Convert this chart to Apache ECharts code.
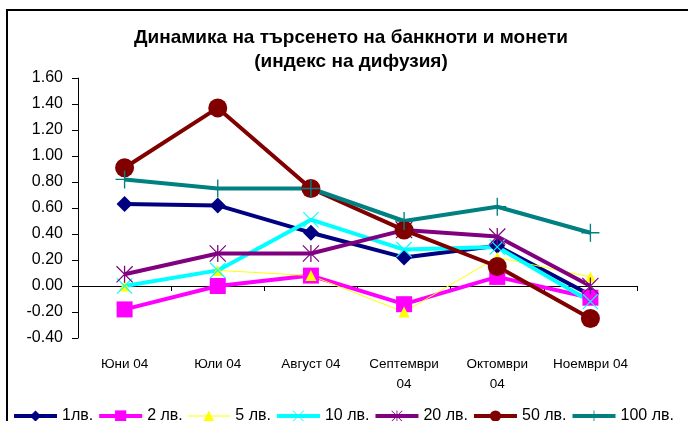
<!DOCTYPE html>
<html>
<head>
<meta charset="utf-8">
<script src="https://cdn.jsdelivr.net/npm/echarts@6/dist/echarts.min.js"></script>
<style>
html,body{margin:0;padding:0;background:#fff;}
#chart{width:688px;height:421px;}
</style>
</head>
<body>
<div id="chart"></div>
<script>
var categories = ['Юни 04', 'Юли 04', 'Август 04', 'Септември\n04', 'Октомври\n04', 'Ноември 04'];
var yTicks = { min: -0.4, max: 1.6, interval: 0.2 };

var lv1   = [0.63, 0.62, 0.41, 0.22, 0.31, -0.07];
var lv2   = [-0.18, 0.00, 0.08, -0.14, 0.07, -0.09];
var lv5   = [0.00, 0.12, 0.08, -0.20, 0.22, 0.07];
var lv10  = [0.00, 0.12, 0.51, 0.28, 0.30, -0.12];
var lv20  = [0.09, 0.25, 0.25, 0.43, 0.38, 0.00];
var lv50  = [0.91, 1.37, 0.75, 0.43, 0.15, -0.25];
var lv100 = [0.82, 0.75, 0.75, 0.50, 0.61, 0.41];

var seriesNames = ['1лв.', '2 лв.', '5 лв.', '10 лв.', '20 лв.', '50 лв.', '100 лв.'];
var lineWidths = [4, 4, 1, 4, 4, 4, 4];

var SYM_X = 'path://M0,1L1,0L20,19L19,20ZM19,0L20,1L1,20L0,19Z';
var SYM_AST = 'path://M0,1L1,0L20,19L19,20ZM19,0L20,1L1,20L0,19ZM9.25,0L10.75,0L10.75,20L9.25,20Z';
var SYM_PLUS = 'path://M9.25,0L10.75,0L10.75,20L9.25,20ZM0,9.25L20,9.25L20,10.75L0,10.75Z';

function mk(i, data, color, symbol, size) {
  return {
    name: seriesNames[i], type: 'line', data: data,
    xAxisIndex: 0, yAxisIndex: 0,
    symbol: symbol, symbolSize: size,
    showAllSymbol: true,
    lineStyle: { color: color, width: lineWidths[i] },
    itemStyle: { color: color, borderWidth: 0 },
    emphasis: { disabled: true },
    animation: false
  };
}

var chart = echarts.init(document.getElementById('chart'));
chart.setOption({
  backgroundColor: '#ffffff',
  animation: false,
  title: {
    text: 'Динамика на търсенето на банкноти и монети\n(индекс на дифузия)',
    left: 346, top: 21, textAlign: 'center',
    textStyle: { fontFamily: 'Liberation Sans, Arial', fontWeight: 'bold', fontSize: 19, color: '#000', lineHeight: 24 }
  },
  graphic: [{
    type: 'rect', silent: true, z: 100,
    shape: { x: 7, y: 10, width: 700, height: 440 },
    style: { fill: 'none', stroke: '#000', lineWidth: 2 }
  }],
  legend: {
    left: 7, top: 403, width: 760, padding: [5, 0, 5, 5],
    itemWidth: 43, itemHeight: 14, itemGap: 4,
    textStyle: { fontFamily: 'Liberation Sans, Arial', fontSize: 16, color: '#000' },
    data: seriesNames.map(function (n, i) {
      return { name: n, lineStyle: { width: lineWidths[i] } };
    })
  },
  grid: { left: 78, right: 51, top: 78, bottom: 83 },
  xAxis: [{
    type: 'category', data: categories, boundaryGap: true,
    axisLine: { onZero: true, lineStyle: { color: '#000', width: 1 } },
    axisTick: { show: true, length: 5, lineStyle: { color: '#000' } },
    axisLabel: { show: false },
    splitLine: { show: false }
  }, {
    type: 'category', data: categories, boundaryGap: true, position: 'bottom',
    axisLine: { show: false, onZero: false },
    axisTick: { show: false },
    axisLabel: { show: true, interval: 0, margin: 16, lineHeight: 20,
      fontFamily: 'Liberation Sans, Arial', fontSize: 13.5, color: '#000' },
    splitLine: { show: false }
  }],
  yAxis: {
    type: 'value', min: yTicks.min, max: yTicks.max, interval: yTicks.interval,
    axisLine: { show: true, lineStyle: { color: '#000', width: 1 } },
    axisTick: { show: true, length: 6, lineStyle: { color: '#000' } },
    axisLabel: { margin: 15, fontFamily: 'Liberation Sans, Arial', fontSize: 16, color: '#000',
      formatter: function (v) { return v.toFixed(2); } },
    splitLine: { show: false }
  },
  series: [
    mk(0, lv1, '#000080', 'diamond', 16),
    mk(1, lv2, '#FF00FF', 'rect', 16),
    mk(2, lv5, '#FFFF00', 'triangle', 11),
    mk(3, lv10, '#00FFFF', SYM_X, 16),
    mk(4, lv20, '#800080', SYM_AST, 17),
    mk(5, lv50, '#800000', 'circle', 19),
    mk(6, lv100, '#008080', SYM_PLUS, 18)
  ]
});
</script>
</body>
</html>
